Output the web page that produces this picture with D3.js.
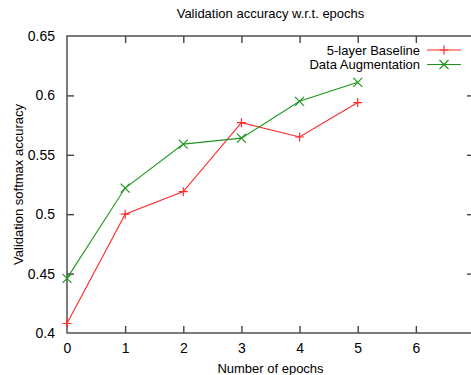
<!DOCTYPE html>
<html>
<head>
<meta charset="utf-8">
<script src="https://cdn.jsdelivr.net/npm/d3@7"></script>
<style>
  body { margin: 0; background: #fff; }
  text { font-family: "Liberation Sans", Arial, sans-serif; fill: #000; }
</style>
</head>
<body>
<svg id="chart"></svg>
<script>
// data
var epochs = [0, 1, 2, 3, 4, 5];
var baseline = [0.408, 0.500, 0.519, 0.577, 0.565, 0.594];
var augmented = [0.446, 0.522, 0.559, 0.564, 0.595, 0.611];
var xTicks = [0, 1, 2, 3, 4, 5, 6];
var yTicks = [0.4, 0.45, 0.5, 0.55, 0.6, 0.65];
var seriesNames = ["5-layer Baseline", "Data Augmentation"];

var width = 471;
var height = 375;
var margin = { top: 36, right: -3, bottom: 42, left: 67 };

var svg = d3.select("#chart")
    .attr("width", width)
    .attr("height", height);

var xScale = d3.scaleLinear()
    .domain([0, 7])
    .range([margin.left, width - margin.right]);

var yScale = d3.scaleLinear()
    .domain([0.4, 0.65])
    .range([height - margin.bottom, margin.top]);

var axisColor = "#444";
var tickLen = 7;

// frame
svg.append("rect")
    .attr("x", xScale(0))
    .attr("y", yScale(0.65))
    .attr("width", xScale(7) - xScale(0))
    .attr("height", yScale(0.4) - yScale(0.65))
    .attr("fill", "none")
    .attr("stroke", axisColor)
    .attr("stroke-width", 1.4);

// bottom axis
var xAxis = d3.axisBottom(xScale)
    .tickValues(xTicks)
    .tickSizeInner(-tickLen)
    .tickSizeOuter(0)
    .tickPadding(10)
    .tickFormat(d3.format("d"));

var gx = svg.append("g")
    .attr("transform", "translate(0," + yScale(0.4) + ")")
    .call(xAxis);

// top ticks (mirror)
var gxTop = svg.append("g")
    .attr("transform", "translate(0," + yScale(0.65) + ")")
    .call(d3.axisTop(xScale).tickValues(xTicks).tickSizeInner(-tickLen).tickSizeOuter(0).tickFormat(""));

// left axis
var yAxis = d3.axisLeft(yScale)
    .tickValues(yTicks)
    .tickSizeInner(-tickLen)
    .tickSizeOuter(0)
    .tickPadding(12)
    .tickFormat(function(d) { return d3.format("")(+d.toFixed(2)); });

var gy = svg.append("g")
    .attr("transform", "translate(" + xScale(0) + ",0)")
    .call(yAxis);

// right ticks (mirror)
var gyRight = svg.append("g")
    .attr("transform", "translate(" + xScale(7) + ",0)")
    .call(d3.axisRight(yScale).tickValues(yTicks).tickSizeInner(-tickLen).tickSizeOuter(0).tickFormat(""));

[gx, gxTop, gy, gyRight].forEach(function(g) {
    g.select(".domain").remove();
    g.selectAll(".tick line").attr("stroke", axisColor).attr("stroke-width", 1.4);
    g.selectAll(".tick text").attr("font-size", "14px").attr("fill", "#000")
        .attr("font-family", "Liberation Sans, Arial, sans-serif");
});

// remove end ticks where they overlap the frame
gx.selectAll(".tick").filter(function(d) { return d == 0; }).select("line").remove();
gxTop.selectAll(".tick").filter(function(d) { return d == 0; }).select("line").remove();
gy.selectAll(".tick").filter(function(d) { return d == 0.4 || d == 0.65; }).select("line").remove();
gyRight.selectAll(".tick").filter(function(d) { return d == 0.4 || d == 0.65; }).select("line").remove();

// title
svg.append("text")
    .attr("x", (xScale(0) + xScale(7)) / 2)
    .attr("y", 18)
    .attr("text-anchor", "middle")
    .attr("font-size", "13px")
    .text("Validation accuracy w.r.t. epochs");

// x label
svg.append("text")
    .attr("x", (xScale(0) + xScale(7)) / 2)
    .attr("y", 373)
    .attr("text-anchor", "middle")
    .attr("font-size", "13px")
    .text("Number of epochs");

// y label
svg.append("text")
    .attr("transform", "translate(23," + (yScale(0.4) + yScale(0.65)) / 2 + ") rotate(-90)")
    .attr("text-anchor", "middle")
    .attr("font-size", "13px")
    .text("Validation softmax accuracy");

var series = [
    { name: seriesNames[0], values: baseline, color: "#ff2a2a", marker: "plus" },
    { name: seriesNames[1], values: augmented, color: "#1e961e", marker: "cross" }
];

var line = d3.line()
    .x(function(d) { return xScale(d.x); })
    .y(function(d) { return yScale(d.y); });

function drawMarker(g, type, cx, cy, color) {
    var s = 4.5;
    if (type == "plus") {
        g.append("path")
            .attr("d", "M" + (cx - s) + "," + cy + "H" + (cx + s) + "M" + cx + "," + (cy - s) + "V" + (cy + s))
            .attr("stroke", color).attr("stroke-width", 1.2).attr("fill", "none");
    } else {
        g.append("path")
            .attr("d", "M" + (cx - s) + "," + (cy - s) + "L" + (cx + s) + "," + (cy + s) +
                       "M" + (cx - s) + "," + (cy + s) + "L" + (cx + s) + "," + (cy - s))
            .attr("stroke", color).attr("stroke-width", 1.2).attr("fill", "none");
    }
}

series.forEach(function(s, i) {
    var pts = epochs.map(function(e, j) { return { x: e, y: s.values[j] }; });
    var g = svg.append("g");
    g.append("path")
        .datum(pts)
        .attr("d", line)
        .attr("fill", "none")
        .attr("stroke", s.color)
        .attr("stroke-width", 1.1);
    pts.forEach(function(p) {
        drawMarker(g, s.marker, xScale(p.x), yScale(p.y), s.color);
    });

    // legend
    var ly = 50 + i * 14.5;
    svg.append("text")
        .attr("x", 420)
        .attr("y", ly)
        .attr("dy", "0.35em")
        .attr("text-anchor", "end")
        .attr("font-size", "13px")
        .text(s.name);
    svg.append("line")
        .attr("x1", 427).attr("x2", 461)
        .attr("y1", ly).attr("y2", ly)
        .attr("stroke", s.color)
        .attr("stroke-width", 1.1);
    drawMarker(svg, s.marker, 444, ly, s.color);
});
</script>
</body>
</html>
